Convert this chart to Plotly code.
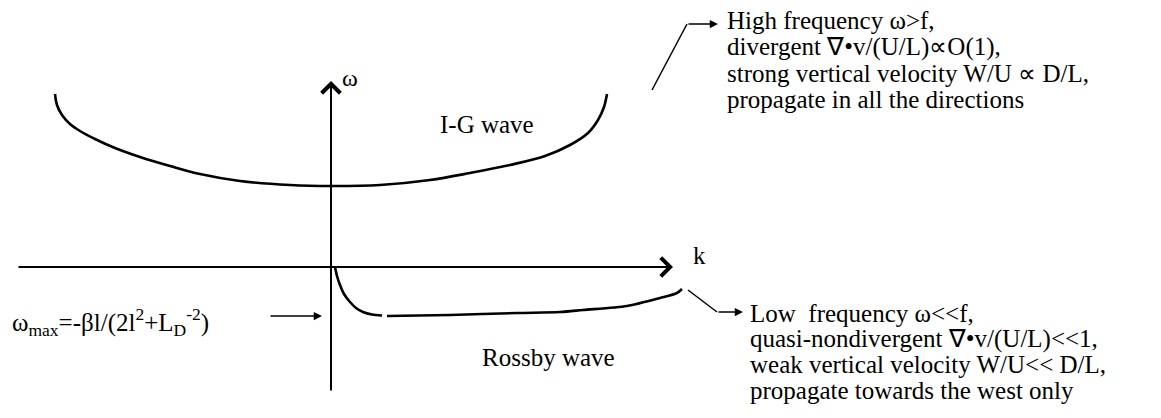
import plotly.graph_objects as go

# ---- data (k, omega); origin at the axis crossing ----
ig_k     = [-276, -274, -269, -261, -251, -236, -216, -191, -161, -131, -91, -41, 0, 49, 99, 139, 179, 214, 239, 257, 267, 273, 276]
ig_omega = [173, 162, 152, 143, 136, 128, 119, 110, 101, 93, 86, 82, 81, 82, 87, 94, 102, 111, 122, 134, 147, 160, 173]

rossby_k1     = [4, 6, 9, 13, 19, 25, 32, 41, 51]
rossby_omega1 = [0, -9, -18, -27, -35, -41, -45, -47.5, -48.5]
rossby_k2     = [56, 119, 186, 229, 252, 296, 329, 346, 351]
rossby_omega2 = [-49, -48, -46, -45, -43, -39, -31, -26, -22]

ig_notes = ["High frequency \u03c9>f,",
            "divergent \u2207\u2022v/(U/L)\u221dO(1),",
            "strong vertical velocity W/U \u221d D/L,",
            "propagate in all the directions"]
rossby_notes = ["Low\u00a0 frequency \u03c9<<f,",
                "quasi-nondivergent \u2207\u2022v/(U/L)<<1,",
                "weak vertical velocity W/U<< D/L,",
                "propagate towards the west only"]
omega_max_label = "\u03c9<sub>max</sub>=-\u03b2l/(2l<sup>2</sup>+L<sub>D</sub><sup>-2</sup>)"

FONT = "Liberation Serif"
BLACK = "#000000"

fig = go.Figure()
line_style = dict(color=BLACK, width=2.6)
fig.add_trace(go.Scatter(x=ig_k, y=ig_omega, mode="lines", line=dict(**line_style, shape="spline", smoothing=1.0), hoverinfo="skip"))
fig.add_trace(go.Scatter(x=rossby_k1, y=rossby_omega1, mode="lines", line=dict(**line_style, shape="spline", smoothing=0.8), hoverinfo="skip"))
fig.add_trace(go.Scatter(x=rossby_k2, y=rossby_omega2, mode="lines", line=dict(**line_style, shape="spline", smoothing=0.8), hoverinfo="skip"))

# callout lines (diagonal parts)
fig.add_trace(go.Scatter(x=[321, 356], y=[177, 243], mode="lines", line=dict(color=BLACK, width=1.5), hoverinfo="skip"))
fig.add_trace(go.Scatter(x=[357, 386], y=[-23, -45], mode="lines", line=dict(color=BLACK, width=1.5), hoverinfo="skip"))

ann = []
def arrow(x0, y0, x1, y1, head, size, width):
    ann.append(dict(x=x1, y=y1, ax=x0, ay=y0, xref="x", yref="y", axref="x", ayref="y",
                    text="", showarrow=True, arrowhead=head, arrowsize=size, arrowwidth=width,
                    arrowcolor=BLACK, standoff=0, startstandoff=0))

# axes
arrow(-314, 0, 342, 0, 4, 1.8, 2.0)
arrow(0, -125, 0, 186, 4, 1.8, 2.0)
# callout arrows
arrow(356, 243, 387, 243, 2, 1.1, 1.5)
arrow(386, -45, 412, -45, 2, 1.1, 1.5)
arrow(-62, -49, -9, -49, 2, 1.1, 1.5)

def label(x, y, text, size, xanchor="center"):
    ann.append(dict(x=x, y=y, xref="x", yref="y", text=text, showarrow=False,
                    xanchor=xanchor, yanchor="middle", font=dict(family=FONT, size=size, color=BLACK)))

label(19, 189, "\u03c9", 24)
label(368, 12, "k", 25)
label(156, 143, "I-G wave", 25)
label(217, -90, "Rossby wave", 25)
label(-321, -55, omega_max_label, 25, "left")
for i, t in enumerate(ig_notes):
    label(394, 247 - 26.5 * i, t, 25, "left")
for i, t in enumerate(rossby_notes):
    label(417, -46 - 25.7 * i, t, 25, "left")

fig.update_layout(
    width=1161, height=418, margin=dict(l=0, r=0, t=0, b=0),
    paper_bgcolor="white", plot_bgcolor="white", showlegend=False,
    font=dict(family=FONT),
    xaxis=dict(range=[-323, 838], visible=False, fixedrange=True),
    yaxis=dict(range=[-159, 259], visible=False, fixedrange=True),
    annotations=ann,
)
fig.write_html("out.html")
